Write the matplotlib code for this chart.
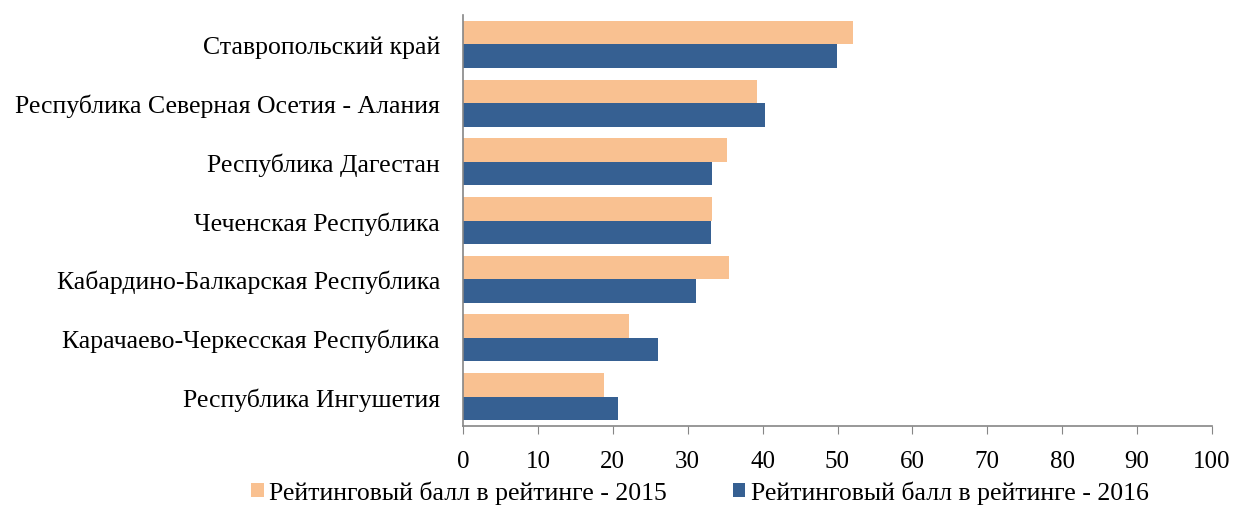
import numpy as np
import matplotlib.pyplot as plt

plt.rcParams['font.family'] = ['Liberation Serif', 'DejaVu Serif']

regioni = ['Ставропольский край',
           'Республика Северная Осетия - Алания',
           'Республика Дагестан',
           'Чеченская Республика',
           'Кабардино-Балкарская Республика',
           'Карачаево-Черкесская Республика',
           'Республика Ингушетия']
bal_2015 = [52.1, 39.3, 35.2, 33.2, 35.5, 22.1, 18.8]
bal_2016 = [49.9, 40.3, 33.3, 33.1, 31.1, 26.1, 20.7]
x_ticks = list(range(0, 101, 10))

fig = plt.figure(figsize=(12.34, 5.06), dpi=100)
ax = fig.add_axes([463 / 1234, 1 - 427 / 506, (1212 - 463) / 1234, (427 - 16) / 506])

y = np.arange(len(regioni))[::-1]
h = 0.4
ax.barh(y + h / 2, bal_2015, height=h, color='#F9C191', label='Рейтинговый балл в рейтинге - 2015')
ax.barh(y - h / 2, bal_2016, height=h, color='#366092', label='Рейтинговый балл в рейтинге - 2016')

ax.set_xlim(0, 100)
ax.set_ylim(-0.5, len(regioni) - 0.5)
ax.set_xticks(x_ticks)
ax.set_yticks(y)
ax.set_yticklabels(regioni)
ax.tick_params(axis='x', labelsize=18, length=6, direction='out', color='#868686', pad=11)
ax.tick_params(axis='y', labelsize=18.5, length=0, pad=16.5)
for s in ['top', 'right']:
    ax.spines[s].set_visible(False)
ax.spines['bottom'].set_color('#868686')
ax.spines['left'].set_color('#868686')
ax.spines['bottom'].set_linewidth(1.2)
ax.spines['left'].set_linewidth(1.2)

fig.legend(loc='center', bbox_to_anchor=(700 / 1234, 1 - 493 / 506), ncol=2, frameon=False,
           fontsize=18.5, handlelength=0.47, handleheight=0.47, handletextpad=0.23,
           columnspacing=2.55, borderpad=0, borderaxespad=0)

fig.savefig('out.png', dpi=100)
